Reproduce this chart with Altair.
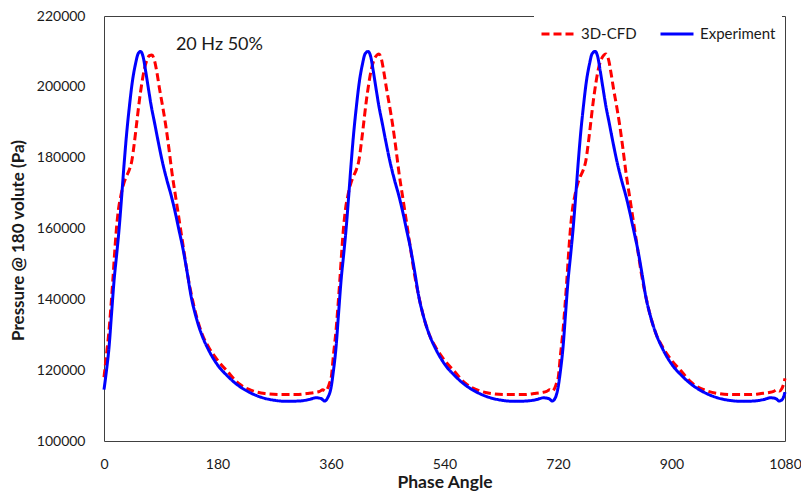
import altair as alt
import pandas as pd

# ---- data ----
series_names = ["3D-CFD", "Experiment"]
series_colors = ["#FF0000", "#0000FF"]

exp_angle = [0, 4, 8, 12, 16, 20, 24, 28, 32, 36, 40, 45, 50, 54, 58, 62, 66, 70, 75, 80, 86, 93, 100, 107, 113, 119, 125, 132, 138, 146, 155, 165, 180, 195, 212, 230, 250, 270, 290, 310, 325, 336, 344, 350, 355,
             360, 364, 368, 372, 376, 380, 384, 388, 392, 396, 400, 405, 410, 414, 419, 423, 427, 431, 436, 441, 447, 454, 461, 468, 474, 480, 486, 493, 499, 507, 516, 526, 541, 556, 573, 591, 611, 631, 651, 671, 686, 697, 705, 711, 716,
             720, 724, 728, 732, 736, 740, 744, 748, 752, 756, 760, 765, 770, 774, 779, 783, 787, 791, 796, 801, 807, 814, 821, 828, 834, 840, 846, 853, 859, 867, 876, 886, 901, 916, 933, 951, 971, 991, 1011, 1031, 1046, 1057, 1065, 1071, 1076, 1080]
exp_pa = [114500, 120000, 126500, 136000, 145400, 152500, 160000, 169000, 178500, 187000, 194000, 201500, 206500, 209300, 210000, 208500, 204500, 200000, 194500, 190000, 184500, 178500, 173500, 169000, 164500, 159500, 154500, 147500, 141000, 135000, 130000, 126000, 121500, 118500, 115800, 113800, 112300, 111500, 111200, 111300, 111700, 112200, 112000, 111300, 112300,
          115000, 120000, 126500, 136000, 145400, 152500, 160000, 169000, 178500, 187000, 194000, 201500, 206500, 209300, 210000, 208500, 204500, 200000, 194500, 190000, 184500, 178500, 173500, 169000, 164500, 159500, 154500, 147500, 141000, 135000, 130000, 126000, 121500, 118500, 115800, 113800, 112300, 111500, 111200, 111300, 111700, 112200, 112000, 111300, 112300,
          115000, 120000, 126500, 136000, 145400, 152500, 160000, 169000, 178500, 187000, 194000, 201500, 206500, 209300, 210000, 208500, 204500, 200000, 194500, 190000, 184500, 178500, 173500, 169000, 164500, 159500, 154500, 147500, 141000, 135000, 130000, 126000, 121500, 118500, 115800, 113800, 112300, 111500, 111200, 111300, 111700, 112200, 112000, 111300, 111800, 113800]

cfd_angle = [0, 4, 8, 11, 14, 17, 20, 23, 27, 31, 35, 40, 44, 48, 52, 56, 60, 64, 68, 72, 76, 80, 84, 88, 93, 98, 103, 108, 114, 120, 126, 132, 139, 147, 156, 166, 180, 195, 213, 234, 255, 280, 305, 322, 335, 342, 347, 351, 355, 358,
             360, 364, 368, 371, 374, 377, 380, 383, 387, 391, 395, 400, 404, 408, 412, 416, 420, 424, 428, 432, 436, 440, 444, 448, 453, 458, 463, 468, 474, 480, 486, 492, 499, 507, 516, 526, 540, 555, 573, 594, 615, 640, 665, 682, 695, 702, 707, 711, 715, 718,
             720, 724, 728, 731, 734, 737, 740, 743, 747, 751, 755, 760, 764, 768, 772, 776, 780, 784, 788, 792, 796, 800, 804, 808, 813, 818, 823, 828, 834, 840, 846, 852, 859, 867, 876, 886, 900, 915, 933, 954, 975, 1000, 1025, 1042, 1055, 1062, 1067, 1071, 1075, 1078, 1080]
cfd_pa = [118000, 124500, 131300, 138000, 145400, 153500, 160500, 165500, 169500, 172500, 174500, 176500, 179000, 184000, 190000, 196000, 201000, 205000, 207500, 208800, 209000, 207500, 204000, 199500, 194500, 189000, 182500, 175500, 168500, 161500, 154500, 147500, 141000, 135000, 130000, 126500, 122800, 119800, 116300, 114300, 113400, 113100, 113100, 113400, 113700, 114000, 114500, 114100, 115000, 116500,
          117500, 124500, 131300, 138000, 145400, 153500, 160500, 165500, 169500, 172500, 174500, 176500, 179000, 184000, 190000, 196000, 201000, 205000, 207500, 208800, 209300, 207800, 204000, 199500, 194500, 189000, 182500, 175500, 168500, 161500, 154500, 147500, 141000, 135000, 130000, 126500, 122800, 119800, 116300, 114300, 113400, 113100, 113100, 113400, 113700, 114000, 114500, 114100, 115000, 116500,
          117500, 124500, 131300, 138000, 145400, 153500, 160500, 165500, 169500, 172500, 174500, 176500, 179000, 184000, 190000, 196000, 201000, 205000, 207500, 208800, 209300, 207800, 204000, 199500, 194500, 189000, 182500, 175500, 168500, 161500, 154500, 147500, 141000, 135000, 130000, 126500, 122800, 119800, 116300, 114300, 113400, 113100, 113100, 113400, 113700, 114000, 114500, 114100, 114800, 116200, 117700]

x_ticks = [0, 180, 360, 540, 720, 900, 1080]
y_ticks = [100000, 120000, 140000, 160000, 180000, 200000, 220000]
note_text = ["20 Hz 50%"]
note_x = [114]
note_y = [211800]

FONT = "Lato"

df_cfd = pd.DataFrame({"angle": cfd_angle, "pa": cfd_pa, "series": series_names[0]})
df_exp = pd.DataFrame({"angle": exp_angle, "pa": exp_pa, "series": series_names[1]})
df_note = pd.DataFrame({"angle": note_x, "pa": note_y, "label": note_text})

color_scale = alt.Scale(domain=series_names, range=series_colors)
dash_scale = alt.Scale(domain=series_names, range=[[8, 4], [1, 0]])

legend_def = alt.Legend(
    title=None, orient="none", legendX=430, legendY=-6, direction="horizontal",
    fillColor="white", padding=6, symbolType="stroke", symbolSize=1089,
    symbolStrokeWidth=3, labelFont=FONT, labelFontSize=15, labelColor="#1a1a1a",
    labelOffset=5, columnPadding=17,
)

x_enc = alt.X("angle:Q", scale=alt.Scale(domain=[0, 1080], nice=False, zero=False),
              axis=alt.Axis(values=x_ticks, format="d", title="Phase Angle", labelPadding=16,
                            labelFlush=False, titlePadding=2, titleFontSize=17.5))
y_enc = alt.Y("pa:Q", scale=alt.Scale(domain=[100000, 220000], nice=False, zero=False),
              axis=alt.Axis(values=y_ticks, format="d", title="Pressure @ 180 volute (Pa)",
                            labelPadding=19, titlePadding=9, titleFontSize=17, titleY=224))


def series_line(d):
    return alt.Chart(d).mark_line(strokeWidth=3, interpolate="monotone").encode(
        x=x_enc, y=y_enc,
        color=alt.Color("series:N", scale=color_scale, legend=legend_def),
        strokeDash=alt.StrokeDash("series:N", scale=dash_scale, legend=legend_def),
    )


note = alt.Chart(df_note).mark_text(align="left", baseline="middle", font=FONT,
                                     fontSize=18, color="#1a1a1a").encode(
    x="angle:Q", y="pa:Q", text="label:N")

chart = alt.layer(series_line(df_cfd), series_line(df_exp), note).properties(
    width=681, height=425,
    padding={"left": 96, "top": 8, "right": 16, "bottom": 51},
    autosize=alt.AutoSizeParams(type="none"),
).configure_view(stroke="#404040", strokeWidth=1).configure_axis(
    grid=False, domain=False, ticks=False,
    labelFont=FONT, labelFontSize=14, labelColor="#1a1a1a",
    titleFont=FONT, titleFontWeight="bold", titleColor="#1a1a1a",
)

chart.save("out.html", embed_options={"renderer": "svg", "actions": False})
